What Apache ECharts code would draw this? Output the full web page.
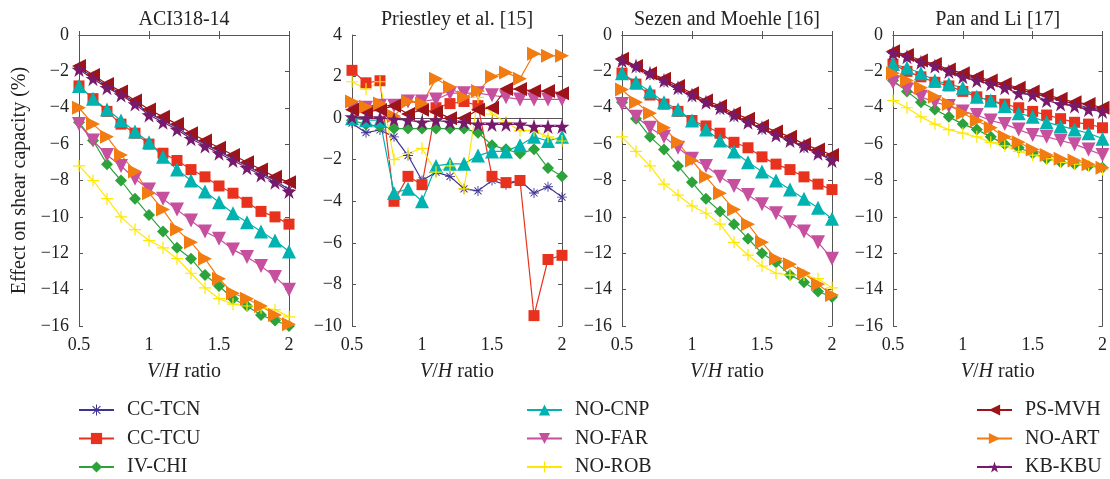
<!DOCTYPE html>
<html>
<head>
<meta charset="utf-8">
<script src="https://cdn.jsdelivr.net/npm/echarts@6/dist/echarts.min.js"></script>
<style>
  html, body { margin: 0; padding: 0; background: #fff; }
  #chart { width: 1110px; height: 479px; }
</style>
</head>
<body>
<div id="chart"></div>
<script>
// V/H ratio sampled at every 0.1
var ratios = [0.5, 0.6, 0.7, 0.8, 0.9, 1.0, 1.1, 1.2, 1.3, 1.4, 1.5, 1.6, 1.7, 1.8, 1.9, 2.0];

var panelTitles = ['ACI318-14', 'Priestley et al. [15]', 'Sezen and Moehle [16]', 'Pan and Li [17]'];
var panelMin = [-16, -10, -16, -16];
var panelMax = [0, 4, 0, 0];

// ACI318-14
var aciCCTCN = [-1.8, -2.3, -2.8, -3.2, -3.7, -4.3, -4.7, -5.1, -5.6, -6.0, -6.4, -6.8, -7.2, -7.6, -8.0, -8.5];
var aciCCTCU = [-2.8, -3.5, -4.2, -4.9, -5.4, -6.0, -6.5, -6.9, -7.4, -7.8, -8.3, -8.7, -9.2, -9.7, -10.0, -10.4];
var aciIVCHI = [-4.8, -5.8, -7.1, -8.0, -9.0, -9.9, -10.8, -11.7, -12.3, -13.2, -13.8, -14.5, -14.9, -15.4, -15.7, -16.0];
var aciNOCNP = [-2.8, -3.5, -4.1, -4.7, -5.3, -5.9, -6.7, -7.4, -8.0, -8.6, -9.2, -9.8, -10.3, -10.8, -11.3, -11.9];
var aciNOFAR = [-4.9, -5.8, -6.6, -7.2, -7.9, -8.5, -9.0, -9.6, -10.2, -10.8, -11.2, -11.8, -12.2, -12.7, -13.3, -14.0];
var aciNOROB = [-7.2, -8.0, -9.0, -10.0, -10.7, -11.3, -11.7, -12.3, -13.1, -13.9, -14.5, -14.8, -14.9, -15.0, -15.1, -15.5];
var aciPSMVH = [-1.7, -2.2, -2.7, -3.1, -3.6, -4.1, -4.5, -4.9, -5.4, -5.8, -6.2, -6.6, -7.0, -7.4, -7.8, -8.1];
var aciNOART = [-4.0, -4.9, -5.6, -6.6, -7.5, -8.7, -9.6, -10.7, -11.4, -12.3, -13.4, -14.2, -14.5, -14.9, -15.4, -15.9];
var aciKBKBU = [-1.9, -2.4, -2.9, -3.3, -3.8, -4.4, -4.8, -5.2, -5.7, -6.1, -6.5, -6.9, -7.3, -7.7, -8.1, -8.6];

// Priestley et al. [15]
var priCCTCN = [-0.24, -0.7, -0.57, -0.9, -1.8, -3.0, -2.6, -2.8, -3.4, -3.5, -3.0, -3.2, -3.0, -3.6, -3.3, -3.8];
var priCCTCU = [2.3, 1.7, 1.8, -4.0, -2.8, -3.2, 0.5, 0.7, 0.8, 0.6, -2.8, -3.1, -3.0, -9.5, -6.8, -6.6];
var priIVCHI = [-0.1, -0.3, -0.4, -0.5, -0.5, -0.5, -0.5, -0.5, -0.5, -0.7, -1.3, -1.5, -1.7, -1.5, -2.4, -2.8];
var priNOCNP = [0.0, -0.1, -0.1, -3.6, -3.4, -4.0, -2.3, -2.2, -2.2, -1.8, -1.6, -1.6, -1.3, -0.9, -1.1, -0.9];
var priNOFAR = [0.5, 0.5, 0.6, 0.6, 0.8, 0.8, 0.9, 1.2, 1.2, 1.2, 1.1, 1.0, 0.9, 0.9, 0.9, 0.9];
var priNOROB = [1.75, 1.4, 1.75, -2.0, -1.7, -1.45, -2.6, -2.3, -3.4, 1.0, 0.2, -0.2, -0.6, -0.6, -0.9, -1.1];
var priPSMVH = [0.4, 0.3, 0.4, 0.6, 0.2, 0.4, 0.3, 0.0, 0.0, 0.4, 0.5, 1.4, 1.4, 1.3, 1.3, 1.2];
var priNOART = [0.8, 0.55, 0.7, 0.1, 0.8, 0.7, 1.9, 1.5, 1.0, 1.3, 2.0, 2.2, 1.9, 3.1, 3.0, 3.0];
var priKBKBU = [0.05, 0.0, 0.0, -0.05, -0.1, -0.2, -0.1, -0.2, -0.2, -0.3, -0.3, -0.3, -0.3, -0.4, -0.4, -0.4];

// Sezen and Moehle [16]
var sezCCTCN = [-1.4, -1.8, -2.2, -2.6, -3.0, -3.4, -3.7, -4.1, -4.5, -4.8, -5.2, -5.5, -5.8, -6.2, -6.5, -6.8];
var sezCCTCU = [-2.1, -2.7, -3.3, -3.8, -4.2, -4.7, -5.0, -5.4, -5.9, -6.2, -6.7, -7.1, -7.4, -7.8, -8.2, -8.5];
var sezIVCHI = [-3.7, -4.6, -5.6, -6.3, -7.2, -8.1, -9.0, -9.7, -10.4, -11.2, -12.0, -12.5, -13.2, -13.6, -14.1, -14.4];
var sezNOCNP = [-2.1, -2.6, -3.1, -3.7, -4.1, -4.7, -5.2, -5.8, -6.4, -7.0, -7.5, -8.0, -8.5, -9.0, -9.5, -10.1];
var sezNOFAR = [-3.8, -4.5, -5.1, -5.6, -6.2, -6.8, -7.2, -7.8, -8.3, -8.8, -9.3, -9.8, -10.3, -10.8, -11.4, -12.3];
var sezNOROB = [-5.6, -6.4, -7.2, -8.2, -8.8, -9.4, -9.8, -10.4, -11.4, -12.1, -12.7, -13.1, -13.2, -13.2, -13.4, -13.9];
var sezPSMVH = [-1.3, -1.7, -2.1, -2.4, -2.8, -3.2, -3.6, -3.9, -4.3, -4.6, -5.0, -5.3, -5.6, -6.0, -6.3, -6.6];
var sezNOART = [-3.0, -3.7, -4.3, -5.1, -5.9, -6.9, -7.8, -8.7, -9.6, -10.4, -11.4, -12.3, -12.6, -13.1, -13.7, -14.3];
var sezKBKBU = [-1.4, -1.7, -2.1, -2.5, -2.9, -3.3, -3.7, -4.0, -4.4, -4.8, -5.1, -5.5, -5.8, -6.1, -6.5, -6.9];

// Pan and Li [17]
var panCCTCN = [-1.0, -1.2, -1.5, -1.7, -2.0, -2.2, -2.4, -2.6, -2.8, -3.0, -3.2, -3.4, -3.6, -3.8, -4.0, -4.1];
var panCCTCU = [-1.6, -2.0, -2.3, -2.6, -2.8, -3.1, -3.4, -3.6, -3.8, -4.0, -4.2, -4.4, -4.6, -4.8, -4.9, -5.1];
var panIVCHI = [-2.5, -3.1, -3.7, -4.1, -4.5, -4.9, -5.2, -5.6, -6.0, -6.2, -6.5, -6.8, -7.0, -7.1, -7.2, -7.3];
var panNOCNP = [-1.6, -1.8, -2.1, -2.5, -2.7, -2.9, -3.4, -3.6, -3.9, -4.3, -4.5, -4.8, -5.0, -5.2, -5.4, -5.7];
var panNOFAR = [-2.6, -3.0, -3.4, -3.7, -3.9, -4.2, -4.4, -4.7, -4.9, -5.2, -5.5, -5.6, -5.8, -6.0, -6.3, -6.6];
var panNOROB = [-3.6, -4.0, -4.5, -4.9, -5.2, -5.4, -5.6, -5.9, -6.1, -6.4, -6.6, -6.8, -7.0, -7.1, -7.2, -7.4];
var panPSMVH = [-0.9, -1.1, -1.4, -1.6, -1.9, -2.1, -2.3, -2.5, -2.7, -2.9, -3.1, -3.3, -3.5, -3.7, -3.8, -4.0];
var panNOART = [-2.1, -2.5, -2.9, -3.4, -3.8, -4.3, -4.7, -5.1, -5.6, -5.9, -6.3, -6.6, -6.8, -6.9, -7.1, -7.3];
var panKBKBU = [-1.0, -1.2, -1.5, -1.7, -2.0, -2.3, -2.5, -2.7, -2.9, -3.2, -3.3, -3.6, -3.8, -3.9, -4.1, -4.2];

var panelData = [
  [aciCCTCN, aciCCTCU, aciIVCHI, aciNOCNP, aciNOFAR, aciNOROB, aciPSMVH, aciNOART, aciKBKBU],
  [priCCTCN, priCCTCU, priIVCHI, priNOCNP, priNOFAR, priNOROB, priPSMVH, priNOART, priKBKBU],
  [sezCCTCN, sezCCTCU, sezIVCHI, sezNOCNP, sezNOFAR, sezNOROB, sezPSMVH, sezNOART, sezKBKBU],
  [panCCTCN, panCCTCU, panIVCHI, panNOCNP, panNOFAR, panNOROB, panPSMVH, panNOART, panKBKBU]
];

var FONT = 'Liberation Serif';
var AXIS = '#555';
var TEXT = '#222';
var TXT = 20; // titles, axis names, legend

var asterisk = 'path://M-0.09,-1H0.09V1H-0.09Z M-1,-0.09H1V0.09H-1Z ' +
  'M-0.636,-0.764L0.764,0.636L0.636,0.764L-0.764,-0.636Z ' +
  'M-0.636,0.764L0.764,-0.636L0.636,-0.764L-0.764,0.636Z';
var plus = 'path://M-1,-0.1H1V0.1H-1Z M-0.1,-1H0.1V1H-0.1Z';
var star = 'path://M0,-1L0.2245,-0.309L0.951,-0.309L0.363,0.118L0.588,0.809L0,0.382L-0.588,0.809L-0.363,0.118L-0.951,-0.309L-0.2245,-0.309Z';

var styles = [
  { name: 'CC-TCN', color: '#3d3393', symbol: asterisk, size: 10, rotate: 0 },
  { name: 'CC-TCU', color: '#e8321e', symbol: 'rect', size: 11, rotate: 0 },
  { name: 'IV-CHI', color: '#2ca33a', symbol: 'diamond', size: 12, rotate: 0 },
  { name: 'NO-CNP', color: '#00b2b0', symbol: 'triangle', size: 14, rotate: 0 },
  { name: 'NO-FAR', color: '#c64f9e', symbol: 'triangle', size: 14, rotate: 180 },
  { name: 'NO-ROB', color: '#ffe800', symbol: plus, size: 12, rotate: 0 },
  { name: 'PS-MVH', color: '#9c1418', symbol: 'triangle', size: 14, rotate: 90 },
  { name: 'NO-ART', color: '#f27c12', symbol: 'triangle', size: 14, rotate: -90 },
  { name: 'KB-KBU', color: '#781a6c', symbol: star, size: 15, rotate: 0 }
];

var gridLefts = [79, 352, 622, 893];

var grids = [], xAxes = [], yAxes = [], series = [];

gridLefts.forEach(function (left, p) {
  grids.push({ left: left, top: 35, width: 210, height: 291 });

  xAxes.push({
    gridIndex: p, type: 'value', position: 'bottom',
    min: 0.5, max: 2, interval: 0.5,
    axisLine: { show: true, lineStyle: { color: AXIS } },
    axisTick: { inside: true, length: 4, lineStyle: { color: AXIS } },
    axisLabel: { fontFamily: FONT, fontSize: 18, color: TEXT, margin: 10 },
    splitLine: { show: false },
    name: '{i|V}/{i|H} ratio', nameLocation: 'middle', nameGap: 36,
    nameTextStyle: {
      fontFamily: FONT, fontSize: TXT, color: TEXT,
      rich: { i: { fontFamily: FONT, fontSize: TXT, fontStyle: 'italic', color: TEXT } }
    }
  });
  xAxes.push({
    gridIndex: p, type: 'value', position: 'top',
    min: 0.5, max: 2, interval: 0.5,
    axisLine: { show: true, lineStyle: { color: AXIS } },
    axisTick: { inside: true, length: 4, lineStyle: { color: AXIS } },
    axisLabel: { show: false },
    splitLine: { show: false },
    name: panelTitles[p], nameLocation: 'middle', nameGap: 5,
    nameTextStyle: { fontFamily: FONT, fontSize: TXT, color: TEXT }
  });

  var yLeft = {
    gridIndex: p, type: 'value', position: 'left',
    min: panelMin[p], max: panelMax[p], interval: 2,
    axisLine: { show: true, lineStyle: { color: AXIS } },
    axisTick: { inside: true, length: 4, lineStyle: { color: AXIS } },
    axisLabel: {
      fontFamily: FONT, fontSize: 18, color: TEXT, margin: 10,
      formatter: function (v) { return String(v).replace('-', '\u2212'); }
    },
    splitLine: { show: false }
  };
  if (p === 0) {
    yLeft.name = 'Effect on shear capacity (%)';
    yLeft.nameLocation = 'middle';
    yLeft.nameGap = 49;
    yLeft.nameTextStyle = { fontFamily: FONT, fontSize: TXT, color: TEXT };
  }
  yAxes.push(yLeft);
  yAxes.push({
    gridIndex: p, type: 'value', position: 'right',
    min: panelMin[p], max: panelMax[p], interval: 2,
    axisLine: { show: true, lineStyle: { color: AXIS } },
    axisTick: { inside: true, length: 4, lineStyle: { color: AXIS } },
    axisLabel: { show: false },
    splitLine: { show: false }
  });

  styles.forEach(function (s, k) {
    var vals = panelData[p][k];
    series.push({
      name: s.name, type: 'line',
      xAxisIndex: 2 * p, yAxisIndex: 2 * p,
      data: ratios.map(function (x, j) { return [x, vals[j]]; }),
      symbol: s.symbol, symbolSize: s.size, symbolRotate: s.rotate,
      showAllSymbol: true,
      lineStyle: { color: s.color, width: 1.2 },
      itemStyle: { color: s.color },
      emphasis: { disabled: true }
    });
  });
});

function legendCol(names, left) {
  return {
    data: names, orient: 'vertical', left: left, top: 400, height: 79,
    padding: 0,
    itemWidth: 35, itemHeight: 14, itemGap: 8.5,
    textStyle: { fontFamily: FONT, fontSize: TXT, lineHeight: 20, color: TEXT, padding: [0, 0, 0, 8] },
    selectedMode: false
  };
}

var chart = echarts.init(document.getElementById('chart'));
chart.setOption({
  animation: false,
  backgroundColor: '#fff',
  grid: grids,
  xAxis: xAxes,
  yAxis: yAxes,
  legend: [
    legendCol(['CC-TCN', 'CC-TCU', 'IV-CHI'], 78),
    legendCol(['NO-CNP', 'NO-FAR', 'NO-ROB'], 526),
    legendCol(['PS-MVH', 'NO-ART', 'KB-KBU'], 976)
  ],
  series: series
});
</script>
</body>
</html>
